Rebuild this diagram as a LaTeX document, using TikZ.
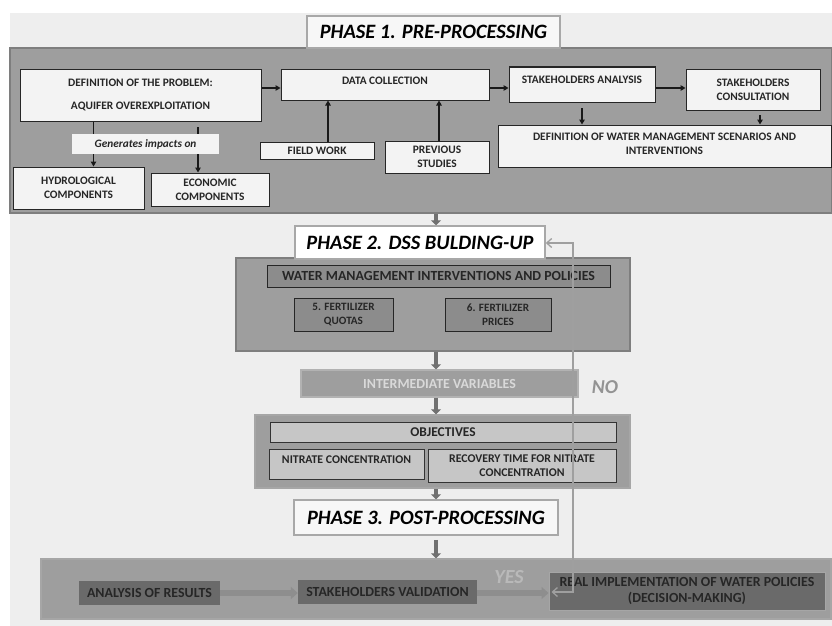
\documentclass[tikz,border=0pt]{standalone}
\usepackage{fontspec}
\setmainfont{Carlito}
\usetikzlibrary{arrows.meta,calc}
\definecolor{bgc}{HTML}{EEEEEE}
\definecolor{panel}{HTML}{9E9E9E}
\definecolor{panelb}{HTML}{7E7E7E}
\definecolor{boxw}{HTML}{F3F3F3}
\definecolor{labelb}{HTML}{A8A8A8}
\definecolor{midg}{HTML}{8C8C8C}
\definecolor{lightg}{HTML}{C6C6C6}
\definecolor{darkg}{HTML}{6A6A6A}
\definecolor{arrg}{HTML}{707070}
\definecolor{arrl}{HTML}{8E8E8E}
\newcommand\fsz[1]{\fontsize{#1pt}{\dimexpr #1pt*6/5\relax}\selectfont}
\begin{document}
\begin{tikzpicture}[x=1pt,y=-1pt,
  panelbox/.style={draw=panelb, line width=1.5pt, fill=panel},
  wbox/.style={draw=black!85, line width=1pt, fill=boxw, inner sep=1pt, align=center, font=\fsz{11.4}\bfseries, text=black!85},
  phaselbl/.style={draw=labelb, line width=1.5pt, fill=white!97!black, inner sep=0pt, font=\fsz{20.4}\bfseries\itshape, text=black},
  mbox/.style={draw=black!85, line width=1pt, fill=midg, inner sep=1pt, align=center, font=\fsz{11.2}\bfseries, text=black!85},
  lbox/.style={draw=black!80, line width=1pt, fill=lightg, inner sep=1pt, align=center, font=\fsz{11.8}\bfseries, text=black!85},
  dbox/.style={fill=darkg, inner sep=1pt, align=center, font=\fsz{13.9}\bfseries, text=black!85},
  blk/.style={-{Triangle[length=5pt,width=5.5pt]}, line width=1.5pt, draw=black!90},
  garr/.style={-{Triangle[length=5pt,width=10pt]}, line width=4pt, draw=arrg},
  larr/.style={-{Triangle[length=7pt,width=12pt]}, line width=6pt, draw=arrl},
  fb/.style={{Straight Barb[length=5pt,width=9pt]}-{Straight Barb[length=5pt,width=9pt]}, line width=1.3pt, draw=gray!75},
]
\useasboundingbox (0,0) rectangle (832,626);
\fill[bgc] (10,13) rectangle (832,626);

% ---------- PHASE 1 ----------
\node[panelbox, minimum width=822pt, minimum height=165pt, inner sep=0pt] (p1box) at (421,130.5) {};
\node[phaselbl, minimum width=253pt, minimum height=32pt] (p1) at (433.5,32) {PHASE 1. PRE-PROCESSING};

\node[wbox, minimum width=241pt, minimum height=52pt] (def) at (140.5,95) {DEFINITION OF THE PROBLEM:\\[9pt]AQUIFER OVEREXPLOITATION};
\node[wbox, minimum width=131pt, minimum height=42pt] (hyd) at (78.5,188) {HYDROLOGICAL\\COMPONENTS};
\node[wbox, minimum width=118pt, minimum height=33pt] (eco) at (210,189.5) {ECONOMIC\\COMPONENTS};
\coordinate (ecotop) at (198,127);
\draw[blk] (def.south -| hyd.north) ++(15,0) coordinate (h0) -- (h0 |- hyd.north);
\draw[blk] (ecotop) -- (ecotop |- eco.north);
\node[fill=boxw, inner sep=0pt, minimum width=147pt, minimum height=20pt, font=\fsz{11.3}\bfseries\itshape, text=black!85] (gen) at (145.5,144) {Generates impacts on};

\node[wbox, minimum width=208pt, minimum height=31pt, text depth=8pt] (dc) at (385,84.5) {DATA COLLECTION};
\node[wbox, minimum width=114pt, minimum height=17pt] (fw) at (317,150.5) {FIELD WORK};
\node[wbox, minimum width=104pt, minimum height=32pt] (ps) at (437,157) {PREVIOUS\\STUDIES};
\node[wbox, minimum width=146pt, minimum height=35pt, text depth=9pt] (sa) at (582,84.5) {STAKEHOLDERS ANALYSIS};
\node[wbox, minimum width=134pt, minimum height=41pt] (sc) at (753,89.5) {STAKEHOLDERS\\CONSULTATION};
\node[wbox, minimum width=333pt, minimum height=42pt, text depth=5pt] (dw) at (664.5,146) {DEFINITION OF WATER MANAGEMENT SCENARIOS AND\\INTERVENTIONS};

\draw[blk] (def.east |- 0,88) -- (dc.west |- 0,88);
\draw[blk] (dc.east |- 0,88) -- (sa.west |- 0,88);
\draw[blk] (sa.east |- 0,88) -- (sc.west |- 0,88);
\draw[blk] (fw.north -| 328,0) -- (dc.south -| 328,0);
\draw[blk] (ps.north -| 439,0) -- (dc.south -| 439,0);
\coordinate (sa0) at (582,108);
\coordinate (sc0) at (760,115);
\draw[blk] (sa0) -- (sa0 |- dw.north);
\draw[blk] (sc0) -- (sc0 |- dw.north);

% ---------- PHASE 2 ----------
\node[panelbox, minimum width=394pt, minimum height=93pt, inner sep=0pt] (p2box) at (433,304.5) {};
\node[phaselbl, fill=white, minimum width=250pt, minimum height=33pt] (p2) at (420,242.5) {PHASE 2. DSS BULDING-UP};
\draw[garr] (p1box.south -| 436,0) -- (p2.north -| 436,0);

\node[mbox, minimum width=343pt, minimum height=22pt, font=\fsz{13.9}\bfseries] (wmi) at (438.5,276) {WATER MANAGEMENT INTERVENTIONS AND POLICIES};
\node[mbox, minimum width=99pt, minimum height=33pt] (fq) at (343.5,314.5) {5. FERTILIZER\\QUOTAS};
\node[mbox, minimum width=106pt, minimum height=33pt] (fp) at (498,314.5) {6. FERTILIZER\\PRICES};

\node[draw=gray!60, line width=1.5pt, fill=panel, minimum width=277pt, minimum height=27pt, inner sep=0pt, font=\fsz{13.9}\bfseries, text=white!85!black] (iv) at (439.5,383.5) {INTERMEDIATE VARIABLES};
\draw[garr] (p2box.south -| 436,0) -- (iv.north -| 436,0);
\node[font=\fsz{19.7}\bfseries\itshape, text=gray!85] (no) at (605,387) {NO};

\node[panelbox, draw=gray!70, minimum width=375pt, minimum height=73pt, inner sep=0pt] (objbox) at (442.5,451.5) {};
\draw[garr] (iv.south -| 436,0) -- (objbox.north -| 436,0);
\node[lbox, minimum width=346pt, minimum height=20pt, font=\fsz{13.4}\bfseries] (obj) at (443,432) {OBJECTIVES};
\node[lbox, minimum width=155pt, minimum height=30pt, text depth=8pt] (nc) at (346.5,464) {NITRATE CONCENTRATION};
\node[lbox, minimum width=188pt, minimum height=33pt] (rt) at (522,465.5) {RECOVERY TIME FOR NITRATE\\CONCENTRATION};

% ---------- PHASE 3 ----------
\node[phaselbl, minimum width=264pt, minimum height=35pt] (p3) at (426,517.5) {PHASE 3. POST-PROCESSING};
\draw[garr] (objbox.south -| 436,0) -- (p3.north -| 436,0);
\node[panelbox, draw=gray!70, minimum width=790pt, minimum height=60pt, inner sep=0pt] (p3box) at (436,589) {};
\draw[garr] (p3.south -| 436,0) ++(0,4) coordinate (p3s) -- (p3s |- p3box.north);

\node[dbox, minimum width=141pt, minimum height=24pt] (ar) at (149.5,593) {ANALYSIS OF RESULTS};
\node[dbox, minimum width=179pt, minimum height=24pt] (sv) at (387.5,592) {STAKEHOLDERS VALIDATION};
\node[dbox, draw=gray!70, line width=1pt, minimum width=276pt, minimum height=38pt] (ri) at (687,591) {REAL IMPLEMENTATION OF WATER POLICIES\\(DECISION-MAKING)};
\draw[larr] (ar.east |- 0,593) -- (sv.west |- 0,593);
\draw[larr] (sv.east |- 0,593) -- (ri.west |- 0,593);
\node[font=\fsz{20}\bfseries\itshape, text=gray!55] (yes) at (509,577) {YES};

% feedback loop
\coordinate (fb0) at ($(ri.west |- 0,592)+(3,0)$);
\draw[fb] (fb0) -- (573,592) -- (573,243) -- (p2.east |- 0,243);
\end{tikzpicture}
\end{document}
